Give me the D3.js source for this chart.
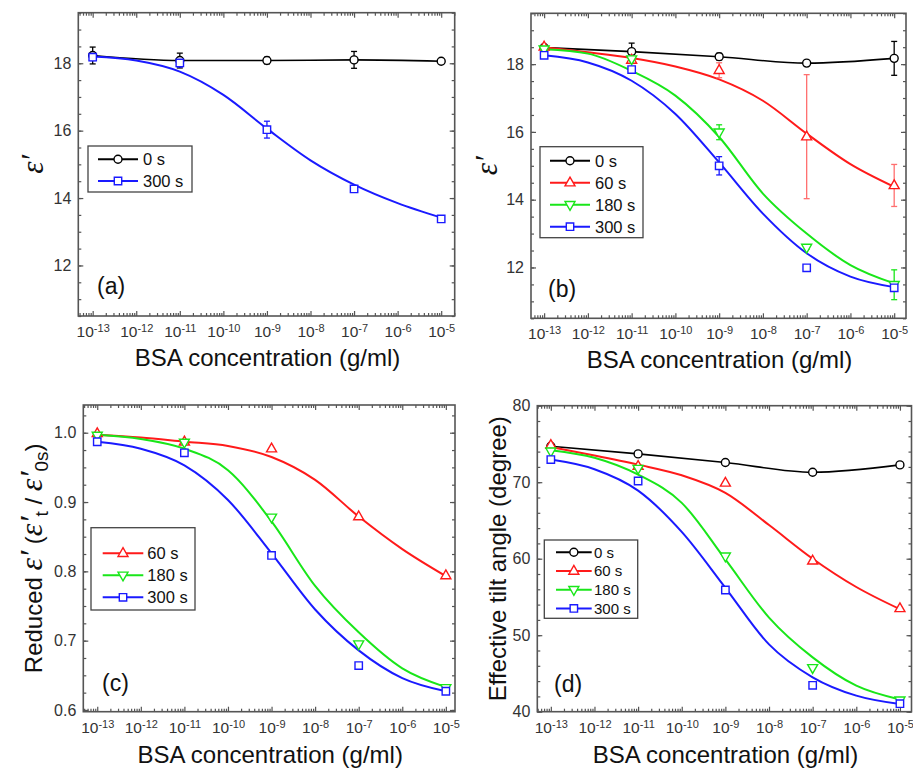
<!DOCTYPE html>
<html>
<head>
<meta charset="utf-8">
<script src="https://cdn.jsdelivr.net/npm/d3@7"></script>
<style>
  body { margin: 0; background: #fff; }
  svg { display: block; }
  text { font-family: "Liberation Sans", Arial, sans-serif; }
</style>
</head>
<body>
<svg id="chart" width="913" height="771"></svg>
<script>
// BSA concentration, as decimal exponents (10^x g/ml)
const concExp = [-13, -11, -9, -7, -5];
const fitExp = [-13, -12, -11, -10, -9, -8, -7, -6, -5];
const xTickExp = [-13, -12, -11, -10, -9, -8, -7, -6, -5];

// (a) dielectric constant ε'
const a0s = [18.23, 18.08, 18.08, 18.10, 18.06];
const a0sErr = [0.25, 0.22, 0.10, 0.25, 0.04];
const a300s = [18.18, 18.01, 16.03, 14.27, 13.38];
const a300sErr = [0.10, 0.12, 0.25, 0.05, 0.08];
const a300sFit = [18.20, 18.08, 17.75, 17.06, 16.06, 15.12, 14.40, 13.85, 13.42];

// (b) dielectric constant ε' for several exposure times
const b0s = [18.49, 18.37, 18.22, 18.03, 18.17];
const b0sErr = [0.06, 0.25, 0.10, 0.05, 0.50];
const b60s = [18.51, 18.12, 17.82, 15.86, 14.42];
const b60sErr = [0.05, 0.10, 0.22, 1.83, 0.62];
const b180s = [18.44, 18.15, 15.99, 12.59, 11.49];
const b180sErr = [0.05, 0.05, 0.22, 0.05, 0.44];
const b300s = [18.26, 17.84, 15.00, 11.99, 11.40];
const b300sErr = [0.05, 0.08, 0.27, 0.05, 0.10];
const b60sFit = [18.50, 18.35, 18.18, 17.93, 17.55, 16.92, 15.95, 15.05, 14.38];
const b180sFit = [18.44, 18.31, 17.80, 17.07, 15.85, 14.18, 13.00, 12.07, 11.53];
const b300sFit = [18.26, 18.05, 17.51, 16.53, 15.10, 13.59, 12.42, 11.73, 11.42];

// (c) reduced ε' (ε'_t / ε'_0s)
const c60s = [0.999, 0.987, 0.977, 0.879, 0.794];
const c180s = [0.996, 0.986, 0.878, 0.695, 0.632];
const c300s = [0.987, 0.971, 0.823, 0.664, 0.627];
const c60sFit = [0.997, 0.993, 0.987, 0.981, 0.965, 0.932, 0.879, 0.832, 0.793];
const c180sFit = [0.997, 0.991, 0.977, 0.946, 0.872, 0.779, 0.712, 0.660, 0.633];
const c300sFit = [0.987, 0.977, 0.953, 0.903, 0.826, 0.745, 0.686, 0.646, 0.627];

// (d) effective tilt angle (degree)
const d0s = [74.70, 73.70, 72.57, 71.30, 72.26];
const d60s = [74.84, 72.09, 69.90, 59.72, 53.50];
const d180s = [74.05, 71.78, 60.33, 45.73, 41.50];
const d300s = [72.96, 70.16, 55.91, 43.45, 41.05];
const d60sFit = [74.60, 73.50, 72.30, 70.90, 68.60, 64.40, 60.00, 56.30, 53.40];
const d180sFit = [74.19, 73.20, 71.00, 67.30, 59.90, 52.30, 47.10, 43.40, 41.60];
const d300sFit = [72.96, 71.70, 68.90, 63.50, 56.20, 48.80, 44.50, 42.10, 41.00];

// legend labels
const labels = { t0: "0 s", t60: "60 s", t180: "180 s", t300: "300 s" };

// series styling
const style = {
  t0:   { color: "#000000", err: "#000000", marker: "circle" },
  t60:  { color: "#ff1a1a", err: "#ff6f6f", marker: "up" },
  t180: { color: "#19e619", err: "#19e619", marker: "down" },
  t300: { color: "#1a1aff", err: "#1a1aff", marker: "square" }
};

const svg = d3.select("#chart");

function zipPts(xs, ys, es) {
  return xs.map((x, i) => ({ x, y: ys[i], e: es ? es[i] : 0 }));
}

function markerPath(kind) {
  switch (kind) {
    case "circle": return d3.symbol(d3.symbolCircle, 50)();
    case "square": return "M-3.7,-3.7H3.7V3.7H-3.7Z";
    case "up": return "M0,-5.6L5,3.2L-5,3.2Z";
    case "down": return "M0,5.6L5,-3.2L-5,-3.2Z";
  }
}

function drawPanel(p) {
  const g = svg.append("g");
  const x = d3.scaleLinear().domain(p.xDomain).range([p.box.l, p.box.r]);
  const y = d3.scaleLinear().domain(p.yDomain).range([p.box.b, p.box.t]);
  const W = p.box.r - p.box.l, H = p.box.b - p.box.t;

  // minor tick positions
  const xMinor = [];
  for (let d = -14; d <= -5; d++) {
    for (let k = 2; k <= 9; k++) {
      const v = d + Math.log10(k);
      if (v > p.xDomain[0] && v < p.xDomain[1]) xMinor.push(v);
    }
  }
  const yMinor = d3.range(p.yDomain[0], p.yDomain[1] + 1e-9, p.yMinorStep)
    .map(v => Math.round(v / p.yMinorStep) * p.yMinorStep)
    .filter(v => v >= p.yDomain[0] - 1e-9 && v <= p.yDomain[1] + 1e-9);

  const tickStyle = sel => {
    sel.select(".domain").remove();
    sel.selectAll("line").attr("stroke", "#555").attr("stroke-width", 1.2);
    sel.selectAll("text").attr("fill", "#333").attr("font-size", 16)
      .attr("font-family", "'Liberation Sans', Arial, sans-serif");
  };

  // bottom axis (major, labelled)
  const xb = g.append("g").attr("transform", `translate(0,${p.box.b})`)
    .call(d3.axisBottom(x).tickValues(xTickExp).tickSize(-5).tickPadding(10).tickFormat(d => d))
    .call(tickStyle);
  xb.selectAll(".tick text").attr("font-size", 15.5).each(function (d) {
    const t = d3.select(this);
    t.text(null);
    t.append("tspan").text("10");
    t.append("tspan").attr("dy", "-0.45em").attr("font-size", 11).text(String(d));
  });
  g.append("g").attr("transform", `translate(0,${p.box.b})`)
    .call(d3.axisBottom(x).tickValues(xMinor).tickSize(-3).tickFormat(""))
    .call(tickStyle);
  // top axis mirrors
  g.append("g").attr("transform", `translate(0,${p.box.t})`)
    .call(d3.axisTop(x).tickValues(xTickExp).tickSize(-5).tickFormat(""))
    .call(tickStyle);
  g.append("g").attr("transform", `translate(0,${p.box.t})`)
    .call(d3.axisTop(x).tickValues(xMinor).tickSize(-3).tickFormat(""))
    .call(tickStyle);

  // left axis
  g.append("g").attr("transform", `translate(${p.box.l},0)`)
    .call(d3.axisLeft(y).tickValues(p.yTicks).tickSize(-5).tickPadding(7).tickFormat(p.yFormat))
    .call(tickStyle);
  g.append("g").attr("transform", `translate(${p.box.l},0)`)
    .call(d3.axisLeft(y).tickValues(yMinor).tickSize(-3).tickFormat(""))
    .call(tickStyle);
  // right axis mirrors
  g.append("g").attr("transform", `translate(${p.box.r},0)`)
    .call(d3.axisRight(y).tickValues(p.yTicks).tickSize(-5).tickFormat(""))
    .call(tickStyle);
  g.append("g").attr("transform", `translate(${p.box.r},0)`)
    .call(d3.axisRight(y).tickValues(yMinor).tickSize(-3).tickFormat(""))
    .call(tickStyle);

  // frame
  g.append("rect").attr("x", p.box.l).attr("y", p.box.t).attr("width", W).attr("height", H)
    .attr("fill", "none").attr("stroke", "#555").attr("stroke-width", 1.6);

  const line = d3.line().x(d => x(d.x)).y(d => y(d.y)).curve(d3.curveMonotoneX);

  // curves
  p.series.forEach(s => {
    const st = style[s.key];
    const pts = s.fit ? zipPts(fitExp, s.fit) : zipPts(concExp, s.values);
    g.append("path").datum(pts).attr("d", line).attr("fill", "none")
      .attr("stroke", st.color).attr("stroke-width", s.fit ? 2 : 1.6);
  });

  // error bars
  p.series.forEach(s => {
    if (!s.err) return;
    const st = style[s.key];
    const pts = zipPts(concExp, s.values, s.err);
    const eg = g.append("g").attr("stroke", st.err).attr("stroke-width", 1.3);
    pts.forEach(d => {
      const y1 = y(d.y + d.e), y2 = y(d.y - d.e), xx = x(d.x);
      eg.append("line").attr("x1", xx).attr("x2", xx).attr("y1", y1).attr("y2", y2);
      eg.append("line").attr("x1", xx - 3).attr("x2", xx + 3).attr("y1", y1).attr("y2", y1);
      eg.append("line").attr("x1", xx - 3).attr("x2", xx + 3).attr("y1", y2).attr("y2", y2);
    });
  });

  // markers
  p.series.forEach(s => {
    const st = style[s.key];
    g.append("g").selectAll("path").data(zipPts(concExp, s.values)).join("path")
      .attr("d", markerPath(st.marker))
      .attr("transform", d => `translate(${x(d.x)},${y(d.y)})`)
      .attr("fill", "#fff").attr("stroke", st.color).attr("stroke-width", 1.4);
  });

  // legend
  const L = p.legend;
  const lg = g.append("g");
  lg.append("rect").attr("x", L.x).attr("y", L.y).attr("width", L.w).attr("height", L.h)
    .attr("fill", "#fff").attr("stroke", "#444").attr("stroke-width", 1.3);
  p.series.forEach((s, i) => {
    const st = style[s.key];
    const ry = L.row0 + i * L.rowStep;
    lg.append("line").attr("x1", L.line[0]).attr("x2", L.line[1]).attr("y1", ry).attr("y2", ry)
      .attr("stroke", st.color).attr("stroke-width", 2);
    lg.append("path").attr("d", markerPath(st.marker))
      .attr("transform", `translate(${(L.line[0] + L.line[1]) / 2},${ry})`)
      .attr("fill", "#fff").attr("stroke", st.color).attr("stroke-width", 1.4);
    lg.append("text").attr("x", L.textX).attr("y", ry).attr("dy", "0.36em")
      .attr("font-size", L.font).attr("fill", "#111").text(labels[s.key]);
  });

  // panel tag
  g.append("text").attr("x", p.tag.x).attr("y", p.tag.y).attr("font-size", 23)
    .attr("fill", "#111").text(p.tag.text);

  // x title
  g.append("text").attr("x", (p.box.l + p.box.r) / 2 + 1).attr("y", p.xTitleY)
    .attr("text-anchor", "middle").attr("font-size", 24).attr("fill", "#111")
    .text("BSA concentration (g/ml)");

  // y title
  const yt = g.append("text")
    .attr("transform", `translate(${p.yTitle.x},${(p.box.t + p.box.b) / 2}) rotate(-90)`)
    .attr("text-anchor", "middle").attr("fill", "#111");
  p.yTitle.build(yt);
}

const epsFont = "'Liberation Serif', 'DejaVu Serif', serif";

function epsTitle(t) {
  t.append("tspan").attr("font-family", epsFont).attr("font-style", "italic")
    .attr("font-size", 31).text("ε′");
}

drawPanel({
  box: { l: 78.3, t: 12.7, r: 454.7, b: 316 },
  xDomain: [-13.33, -4.69],
  yDomain: [10.5, 19.5], yTicks: [12, 14, 16, 18], yMinorStep: 0.5, yFormat: d3.format("d"),
  series: [
    { key: "t0", values: a0s, err: a0sErr },
    { key: "t300", values: a300s, err: a300sErr, fit: a300sFit }
  ],
  legend: { x: 88, y: 146, w: 104, h: 46, row0: 159.3, rowStep: 21.7, line: [98, 138], textX: 143, font: 16.5 },
  tag: { x: 97, y: 293.5, text: "(a)" },
  xTitleY: 366,
  yTitle: { x: 43, build: epsTitle }
});

drawPanel({
  box: { l: 531, t: 13.3, r: 906, b: 318.3 },
  xDomain: [-13.30, -4.73],
  yDomain: [10.5, 19.5], yTicks: [12, 14, 16, 18], yMinorStep: 0.5, yFormat: d3.format("d"),
  series: [
    { key: "t0", values: b0s, err: b0sErr },
    { key: "t60", values: b60s, err: b60sErr, fit: b60sFit },
    { key: "t180", values: b180s, err: b180sErr, fit: b180sFit },
    { key: "t300", values: b300s, err: b300sErr, fit: b300sFit }
  ],
  legend: { x: 540, y: 146.7, w: 103, h: 91, row0: 160.7, rowStep: 22, line: [550, 590], textX: 595, font: 16.5 },
  tag: { x: 548, y: 297, text: "(b)" },
  xTitleY: 368,
  yTitle: { x: 497, build: epsTitle }
});

drawPanel({
  box: { l: 83.3, t: 405, r: 455, b: 711.7 },
  xDomain: [-13.32, -4.79],
  yDomain: [0.5975, 1.04], yTicks: [0.6, 0.7, 0.8, 0.9, 1.0], yMinorStep: 0.025, yFormat: d3.format(".1f"),
  series: [
    { key: "t60", values: c60s, fit: c60sFit },
    { key: "t180", values: c180s, fit: c180sFit },
    { key: "t300", values: c300s, fit: c300sFit }
  ],
  legend: { x: 91, y: 527.7, w: 104, h: 82.3, row0: 553.3, rowStep: 22, line: [102.7, 143.3], textX: 147.3, font: 16.5 },
  tag: { x: 102, y: 690.5, text: "(c)" },
  xTitleY: 762.7,
  yTitle: {
    x: 42,
    build: t => {
      t.append("tspan").attr("font-size", 24).text("Reduced ");
      t.append("tspan").attr("font-family", epsFont).attr("font-style", "italic").attr("font-size", 32).text("ε′");
      t.append("tspan").attr("font-size", 24).text(" (");
      t.append("tspan").attr("font-family", epsFont).attr("font-style", "italic").attr("font-size", 32).text("ε′");
      t.append("tspan").attr("font-size", 19).attr("dy", 6).text("t");
      t.append("tspan").attr("font-size", 24).attr("dy", -6).text(" / ");
      t.append("tspan").attr("font-family", epsFont).attr("font-style", "italic").attr("font-size", 32).text("ε′");
      t.append("tspan").attr("font-size", 19).attr("dy", 6).text("0s");
      t.append("tspan").attr("font-size", 24).attr("dy", -6).text(")");
    }
  }
});

drawPanel({
  box: { l: 537.3, t: 405.7, r: 911.5, b: 711.7 },
  xDomain: [-13.31, -4.735],
  yDomain: [40, 80], yTicks: [40, 50, 60, 70, 80], yMinorStep: 2, yFormat: d3.format("d"),
  series: [
    { key: "t0", values: d0s },
    { key: "t60", values: d60s, fit: d60sFit },
    { key: "t180", values: d180s, fit: d180sFit },
    { key: "t300", values: d300s, fit: d300sFit }
  ],
  legend: { x: 544.3, y: 540, w: 93.4, h: 78.3, row0: 552.3, rowStep: 18.7, line: [556, 591.7], textX: 594, font: 15 },
  tag: { x: 554, y: 692, text: "(d)" },
  xTitleY: 762.7,
  yTitle: {
    x: 506,
    build: t => t.append("tspan").attr("font-size", 24).text("Effective tilt angle (degree)")
  }
});
</script>
</body>
</html>
